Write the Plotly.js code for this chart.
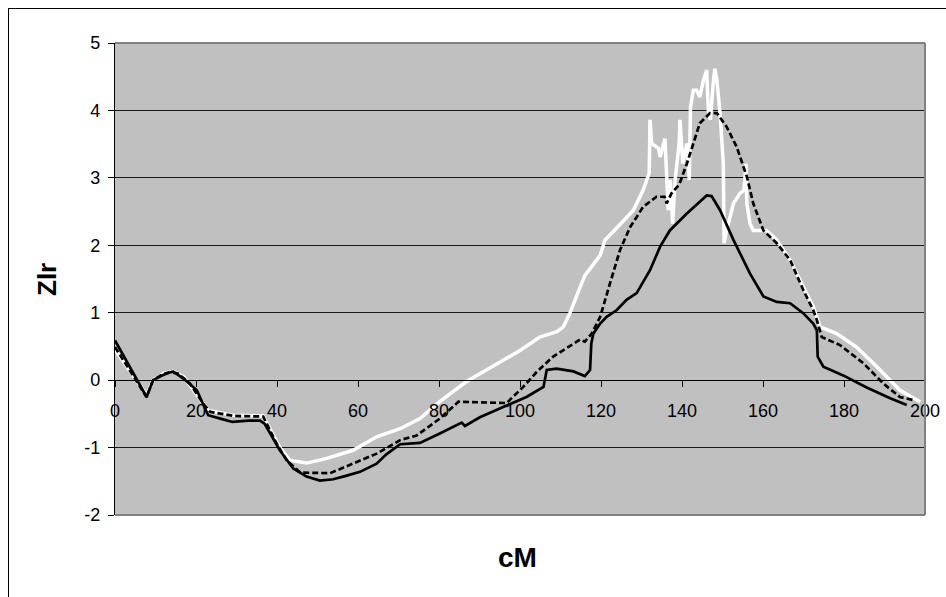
<!DOCTYPE html>
<html>
<head>
<meta charset="utf-8">
<script src="https://cdn.plot.ly/plotly-3.0.1.min.js"></script>
<style>
  html, body { margin: 0; padding: 0; background: #fff; }
  #wrap { position: relative; width: 946px; height: 597px; overflow: hidden; }
  #chart { position: absolute; left: 0; top: 0; width: 946px; height: 597px; }
  #frame { position: absolute; left: 7.5px; top: 7.5px; width: 1200px; height: 1200px;
           border-left: 1.5px solid #000; border-top: 1.5px solid #000; pointer-events: none; }
</style>
</head>
<body>
<div id="wrap">
  <div id="chart"></div>
  <div id="frame"></div>
</div>
<script>
// Axis ticks
const xTicks = [0, 20, 40, 60, 80, 100, 120, 140, 160, 180, 200];
const yTicks = [-2, -1, 0, 1, 2, 3, 4, 5];

// Series 1: solid black
const solidX = [0, 4, 7.8, 9.4, 12, 14.3, 17, 20.2, 23, 26, 29, 33, 35.8, 37, 40.7, 44, 47.3, 50.6, 53.9, 57, 60.5, 64.6, 67, 70.4, 75.3, 80.2, 85.6, 86.4, 90.1, 95, 101.6, 105.8, 106.6, 109, 113.2, 116, 117.3, 117.6, 118.1, 119.8, 121.4, 123.9, 126.3, 128.8, 132.1, 134.6, 137, 141.2, 144.4, 146.1, 147.3, 149.4, 152.7, 156.8, 160.1, 163.4, 166.7, 170, 172.4, 173.3, 173.5, 174.9, 179.8, 185.6, 191.4, 195.5];
const solidY = [0.59, 0.17, -0.25, 0, 0.08, 0.13, 0.02, -0.15, -0.52, -0.57, -0.62, -0.6, -0.6, -0.65, -1.04, -1.31, -1.43, -1.49, -1.47, -1.42, -1.36, -1.24, -1.1, -0.95, -0.93, -0.79, -0.63, -0.68, -0.55, -0.42, -0.25, -0.1, 0.15, 0.17, 0.13, 0.06, 0.15, 0.54, 0.69, 0.84, 0.94, 1.04, 1.19, 1.29, 1.63, 1.98, 2.22, 2.47, 2.64, 2.74, 2.73, 2.52, 2.08, 1.58, 1.24, 1.16, 1.14, 0.99, 0.84, 0.74, 0.35, 0.2, 0.07, -0.11, -0.27, -0.37];

// Series 2: dashed black
const dashX = [0, 4, 7.8, 9.4, 11.5, 13.6, 15.5, 18.5, 21.8, 23.5, 29.2, 36.6, 39.9, 42.4, 45.7, 53.1, 58.8, 64.6, 70.4, 74.5, 80.2, 84.8, 96.7, 100.8, 104.1, 108.2, 114.8, 116, 117.7, 119.8, 122.2, 124.7, 127.2, 130.4, 133.7, 135.7, 136.2, 137.4, 139.3, 141.2, 142.8, 144.4, 146.9, 148.6, 151, 153.5, 156, 157.6, 160.1, 163.4, 166.7, 170, 172.4, 173.3, 174.5, 179, 184.8, 189.7, 193.8, 197.5];
const dashY = [0.49, 0.12, -0.25, 0, 0.08, 0.12, 0.1, -0.05, -0.35, -0.47, -0.53, -0.54, -0.94, -1.19, -1.37, -1.38, -1.24, -1.09, -0.89, -0.82, -0.57, -0.32, -0.34, -0.1, 0.12, 0.35, 0.6, 0.57, 0.69, 0.94, 1.43, 1.93, 2.27, 2.57, 2.72, 2.72, 2.62, 2.77, 2.9, 3.21, 3.51, 3.81, 3.96, 3.96, 3.76, 3.46, 3.02, 2.62, 2.22, 2.03, 1.78, 1.33, 1.04, 0.89, 0.64, 0.52, 0.25, -0.05, -0.25, -0.3];

// Series 3: white
const whiteX = [0, 4, 7.8, 9.4, 12, 14.3, 17, 20, 23, 29, 36.6, 40.7, 43.2, 47.3, 52.3, 58.8, 64.6, 70.4, 75.3, 80.2, 86.8, 95.1, 100, 104.9, 109.1, 110.7, 112.3, 113.6, 116, 119.8, 121, 123, 126.3, 128, 130.4, 131.9, 132.1, 132.5, 134.2, 134.6, 135.8, 136.2, 136.6, 137.1, 137.7, 138.3, 139.3, 139.5, 140.2, 141.2, 141.8, 142.1, 142.8, 143.6, 144.4, 145.3, 146.1, 146.5, 147, 147.7, 148.1, 148.6, 149.4, 150.2, 150.4, 151, 152.7, 154.3, 155.3, 155.8, 156, 156.8, 157.6, 160.9, 163.4, 166.7, 170, 172.4, 174.1, 178.2, 183.1, 188.1, 193.8, 198.8];
const whiteY = [0.45, 0.1, -0.22, 0, 0.1, 0.13, 0.05, -0.2, -0.45, -0.52, -0.53, -1.0, -1.19, -1.23, -1.16, -1.04, -0.84, -0.72, -0.57, -0.32, -0.02, 0.27, 0.44, 0.64, 0.72, 0.79, 0.99, 1.19, 1.55, 1.85, 2.08, 2.2, 2.4, 2.52, 2.82, 3.07, 3.86, 3.51, 3.44, 3.31, 3.58, 2.97, 2.52, 2.97, 2.32, 2.97, 3.51, 3.86, 3.21, 3.51, 2.97, 4.05, 4.3, 4.3, 4.2, 4.45, 4.6, 4.0, 3.86, 4.4, 4.62, 4.45, 3.96, 3.21, 2.03, 2.22, 2.62, 2.77, 2.82, 3.21, 2.62, 2.32, 2.22, 2.22, 2.08, 1.78, 1.38, 1.09, 0.79, 0.69, 0.49, 0.2, -0.15, -0.32];

const xTitle = 'cM';
const yTitle = 'Zlr';

const FONT = 'Liberation Sans, Arial, sans-serif';

const traces = [
  { x: whiteX, y: whiteY, type: 'scatter', mode: 'lines', line: { color: '#ffffff', width: 3.5 }, hoverinfo: 'skip' },
  { x: solidX, y: solidY, type: 'scatter', mode: 'lines', line: { color: '#000000', width: 2.7 }, hoverinfo: 'skip' },
  { x: dashX, y: dashY, type: 'scatter', mode: 'lines', line: { color: '#000000', width: 2.7, dash: '6px,3px' }, hoverinfo: 'skip' }
];

const layout = {
  width: 946, height: 597,
  margin: { l: 115, r: 21, t: 43, b: 82, pad: 0 },
  paper_bgcolor: '#ffffff',
  plot_bgcolor: '#c0c0c0',
  showlegend: false,
  font: { family: FONT, color: '#000' },
  xaxis: {
    range: [0, 200], tickvals: xTicks, ticktext: xTicks.map(String),
    anchor: 'free', position: 2 / 7,
    showline: true, linecolor: '#000', linewidth: 1,
    ticks: 'outside', ticklen: 6, tickcolor: '#000', tickwidth: 1,
    showgrid: false, zeroline: false,
    tickfont: { family: FONT, size: 18, color: '#000' },
    ticklabelstandoff: 8,
    fixedrange: true
  },
  yaxis: {
    range: [-2, 5], tickvals: yTicks, ticktext: yTicks.map(String),
    showline: true, linecolor: '#000', linewidth: 1.2,
    ticks: 'outside', ticklen: 6, tickcolor: '#000', tickwidth: 1,
    showgrid: true, gridcolor: '#1a1a1a', gridwidth: 1,
    zeroline: true, zerolinecolor: '#000', zerolinewidth: 1,
    tickfont: { family: FONT, size: 18, color: '#000' },
    ticklabelstandoff: 4,
    fixedrange: true
  },
  shapes: [
    { type: 'line', xref: 'paper', yref: 'paper', x0: 0, x1: 1, y0: 1, y1: 1, line: { color: '#808080', width: 2 }, layer: 'above' },
    { type: 'line', xref: 'paper', yref: 'paper', x0: 1, x1: 1, y0: 0, y1: 1, line: { color: '#808080', width: 2 }, layer: 'above' },
    { type: 'line', xref: 'paper', yref: 'paper', x0: 0, x1: 1, y0: 0, y1: 0, line: { color: '#808080', width: 2 }, layer: 'above' }
  ],
  annotations: [
    { text: '<b>' + xTitle + '</b>', xref: 'paper', yref: 'paper', x: 0.4975, y: -0.091,
      xanchor: 'center', yanchor: 'middle', showarrow: false, font: { family: FONT, size: 28, color: '#000' } },
    { text: '<b>' + yTitle + '</b>', xref: 'paper', yref: 'paper', x: (47 - 115) / 810, y: (515 - 280) / 472,
      xanchor: 'center', yanchor: 'middle', textangle: -90, showarrow: false, font: { family: FONT, size: 26, color: '#000' } }
  ]
};

Plotly.newPlot('chart', traces, layout, { displayModeBar: false, staticPlot: true });
</script>
</body>
</html>
